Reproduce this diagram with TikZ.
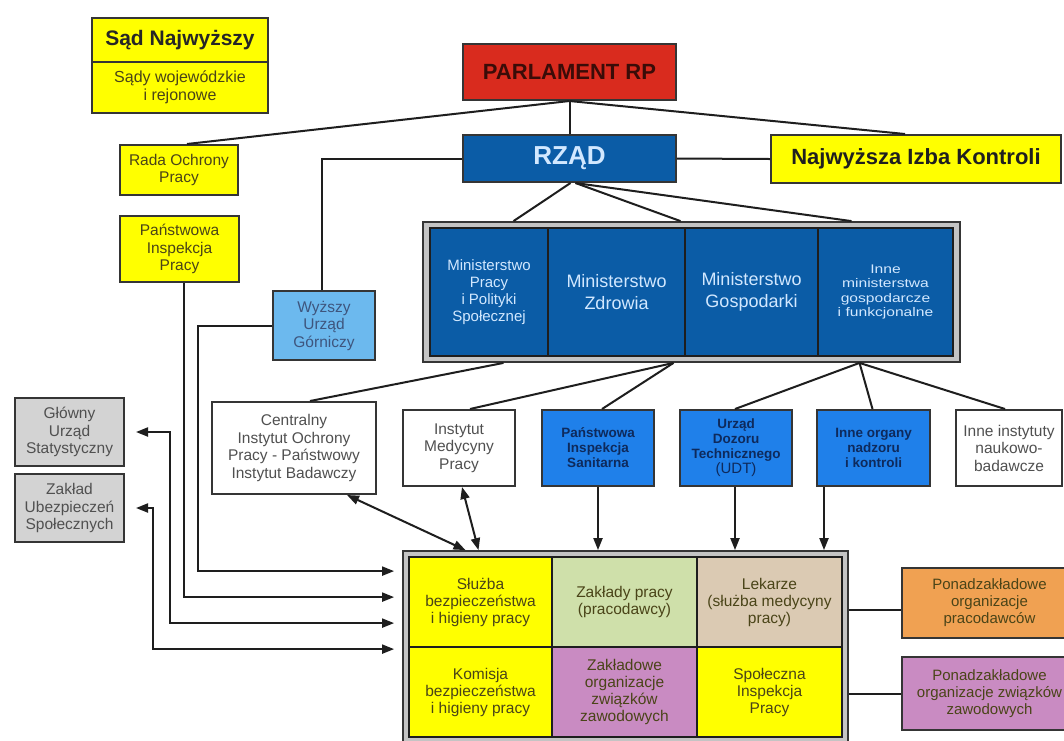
\documentclass[tikz,border=0pt]{standalone}
\usepackage{fontspec}
\setmainfont{Liberation Sans}
\newfontfamily\widesans[FakeStretch=1.25]{Liberation Sans}
\usetikzlibrary{arrows.meta,calc}
\definecolor{cyel}{HTML}{FFFF00}
\definecolor{cred}{HTML}{D92B1E}
\definecolor{cdblue}{HTML}{0B5CA6}
\definecolor{cmblue}{HTML}{1F80EA}
\definecolor{clblue}{HTML}{6CB9EE}
\definecolor{cgrey}{HTML}{D3D3D3}
\definecolor{cgreen}{HTML}{CFE0AA}
\definecolor{cbeige}{HTML}{DBCAB3}
\definecolor{cpurple}{HTML}{C98BC2}
\definecolor{corange}{HTML}{F0A152}
\definecolor{cframe}{HTML}{C4C4C4}
\definecolor{cline}{HTML}{1E1E1E}
\definecolor{ctxtY}{HTML}{4A4418}
\definecolor{ctxtG}{HTML}{505050}
\definecolor{ctxtM}{HTML}{D2E8FF}
\definecolor{ctxtN}{HTML}{0E2A5C}
\definecolor{ctxtP}{HTML}{3A0C08}
\begin{document}
\begin{tikzpicture}[x=1pt,y=-1pt,
  wh/.style 2 args={minimum width=#1pt,minimum height=#2pt},
  box/.style={draw=cline!90, line width=2pt, inner sep=1pt, align=center, text=ctxtY,
    font=\fontsize{15.5}{17.5}\selectfont},
  cell/.style={draw=cline, line width=1.3pt, inner sep=1pt, align=center, text=ctxtY,
    font=\fontsize{15.5}{17}\selectfont},
  frame/.style={draw=cline!90, line width=1.8pt, fill=cframe},
  conn/.style={draw=cline, line width=2pt},
  arr/.style={conn, -{Triangle[length=12pt,width=9pt]}},
  darr/.style={conn, {Triangle[length=12pt,width=9pt]}-{Triangle[length=12pt,width=9pt]}}
]
\useasboundingbox (0,0) rectangle (1064,740);
\clip (0,0) rectangle (1064,740);
\fill[white] (0,0) rectangle (1064,740);

% top left
\node[box, fill=cyel, wh={176}{44}, text=black!85, font=\bfseries\fontsize{21}{24}\selectfont] (sadA) at (180,40) {Sąd Najwyższy};
\node[box, fill=cyel, wh={176}{51}, font=\fontsize{16}{18}\selectfont] (sadB) at (180,87.5) {Sądy wojewódzkie\\i rejonowe};
\node[box, fill=cyel, wh={118}{50}] (rada) at (179,170) {Rada Ochrony\\Pracy};
\node[box, fill=cyel, wh={119}{66}] (pip) at (179.5,249) {Państwowa\\Inspekcja\\Pracy};

% top centre
\node[box, fill=cred, wh={213}{56}, text=ctxtP, font=\bfseries\fontsize{22}{24}\selectfont] (parl) at (569.5,72) {PARLAMENT RP};
\node[box, fill=cdblue, wh={213}{47}, text=ctxtM, font=\bfseries\fontsize{26}{28}\selectfont] (rzad) at (569.5,158.5) {RZĄD};
\node[box, fill=cyel, wh={290}{48}, text=black!88, font=\bfseries\fontsize{22}{24}\selectfont] (nik) at (916,159) {Najwyższa Izba Kontroli};
\node[box, fill=clblue, wh={102}{69}, text=ctxtN!80] (wug) at (324,325.5) {Wyższy\\Urząd\\Górniczy};

% ministries
\node[frame, wh={537}{140}] (min) at (691.5,292) {};
\node[cell, fill=cdblue, wh={118}{128}, text=ctxtM, font=\fontsize{15}{16.8}\selectfont] (m1) at (489,292) {Ministerstwo\\Pracy\\i Polityki\\Społecznej};
\node[cell, fill=cdblue, wh={137}{128}, text=ctxtM, font=\fontsize{18}{21.5}\selectfont] (m2) at (616.5,292) {Ministerstwo\\Zdrowia};
\node[cell, fill=cdblue, wh={133}{128}, text=ctxtM, font=\fontsize{18}{21.5}\selectfont] (m3) at (751.5,292) {Ministerstwo\\Gospodarki};
\node[cell, fill=cdblue, wh={135}{128}, text=ctxtM, font=\widesans\fontsize{12.5}{14.5}\selectfont] (m4) at (885.5,292) {Inne\\ministerstwa\\gospodarcze\\i funkcjonalne};

% left grey boxes
\node[box, fill=cgrey, wh={109}{68}, text=ctxtG] (gus) at (69.5,432) {Główny\\Urząd\\Statystyczny};
\node[box, fill=cgrey, wh={109}{68}, text=ctxtG] (zus) at (69.5,508) {Zakład\\Ubezpieczeń\\Społecznych};

% institutes row
\node[box, fill=white, wh={164}{92}, text=ctxtG] (ciop) at (294,448) {Centralny\\Instytut Ochrony\\Pracy - Państwowy\\Instytut Badawczy};
\node[box, fill=white, wh={112}{76}, text=ctxtG] (imp) at (459,448) {Instytut\\Medycyny\\Pracy};
\node[box, fill=cmblue, wh={112}{76}, text=ctxtN, font=\bfseries\fontsize{13.5}{15}\selectfont] (pis) at (598,448) {Państwowa\\Inspekcja\\Sanitarna};
\node[box, fill=cmblue, wh={112}{76}, text=ctxtN, font=\bfseries\fontsize{13.5}{15}\selectfont] (udt) at (736,448) {Urząd\\Dozoru\\Technicznego\\{\mdseries\fontsize{15}{15}\selectfont (UDT)}};
\node[box, fill=cmblue, wh={113}{76}, text=ctxtN, font=\bfseries\fontsize{13.5}{15}\selectfont] (ino) at (873.5,448) {Inne organy\\nadzoru\\i kontroli};
\node[box, fill=white, wh={106}{76}, text=ctxtG] (iin) at (1009,448) {Inne instytuty\\naukowo-\\badawcze};

% bottom frame
\node[frame, wh={445}{192}] (bot) at (625.5,647) {};
\node[cell, fill=cyel, wh={143}{90}] (c11) at (480.5,602) {Służba\\bezpieczeństwa\\i higieny pracy};
\node[cell, fill=cgreen, wh={145}{90}] (c12) at (624.5,602) {Zakłady pracy\\(pracodawcy)};
\node[cell, fill=cbeige, wh={145}{90}] (c13) at (769.5,602) {Lekarze\\(służba medycyny\\pracy)};
\node[cell, fill=cyel, wh={143}{90}] (c21) at (480.5,692) {Komisja\\bezpieczeństwa\\i higieny pracy};
\node[cell, fill=cpurple, wh={145}{90}] (c22) at (624.5,692) {Zakładowe\\organizacje\\związków\\zawodowych};
\node[cell, fill=cyel, wh={145}{90}] (c23) at (769.5,692) {Społeczna\\Inspekcja\\Pracy};

% right boxes
\node[box, fill=corange, wh={175}{70}, font=\fontsize{15}{17}\selectfont] (ora) at (989.5,603) {Ponadzakładowe\\organizacje\\pracodawców};
\node[box, fill=cpurple, wh={175}{73}, font=\fontsize{15}{17}\selectfont] (pur) at (989.5,693.5) {Ponadzakładowe\\organizacje związków\\zawodowych};

% connectors: top
\draw[conn] (parl.south) -- ([xshift=8pt]rada.north);
\draw[conn] (parl.south) -- (rzad.north);
\draw[conn] (parl.south) -- ([xshift=-11pt]nik.north);
\draw[conn] (rzad.east) -- (nik.west);
\draw[conn] (rzad.west) -| ([xshift=-2pt]wug.north);
\draw[conn] ([xshift=1pt]rzad.south) -- ([xshift=-178pt]min.north);
\draw[conn] ([xshift=6pt]rzad.south) -- ([xshift=-11pt]min.north);
\draw[conn] ([xshift=6pt]rzad.south) -- ([xshift=160pt]min.north);

% ministries to institutes
\coordinate (mA) at ([xshift=-188pt]min.south);
\coordinate (mB) at ([xshift=-18pt]min.south);
\coordinate (mC) at ([xshift=168pt]min.south);
\draw[conn] (mA) -- ([xshift=16pt]ciop.north);
\draw[conn] (mB) -- ([xshift=11pt]imp.north);
\draw[conn] (mB) -- ([xshift=4pt]pis.north);
\draw[conn] (mC) -- ([xshift=-1pt]udt.north);
\draw[conn] (mC) -- ([xshift=-1pt]ino.north);
\draw[conn] (mC) -- ([xshift=-4pt]iin.north);

% institutes to bottom frame
\draw[darr] ([xshift=53pt]ciop.south) -- ([xshift=-160pt]bot.north);
\draw[darr] ([xshift=3pt]imp.south) -- ([xshift=-147pt]bot.north);
\draw[arr] (pis.south) -- (pis.south |- bot.north);
\coordinate (udtA) at ([xshift=-1pt]udt.south);
\draw[arr] (udtA) -- (udtA |- bot.north);
\coordinate (inoA) at ([xshift=8pt]ino.south west);
\draw[arr] (inoA) -- (inoA |- bot.north);

% left side connectors
\draw[arr] (wug.west) -- ++(-74,0) |- ([xshift=-8pt,yshift=-21pt]bot.north west);
\draw[arr] ([xshift=4.5pt]pip.south) |- ([xshift=-8pt,yshift=-47pt]bot.north west);
\draw[darr] ([xshift=11pt]gus.east) -- ++(34,0) |- ([xshift=-8pt,yshift=-73pt]bot.north west);
\draw[darr] ([xshift=11pt]zus.east) -- ++(17,0) |- ([xshift=-8pt,yshift=-99pt]bot.north west);

% right side
\coordinate (oraA) at ([yshift=-7pt]ora.west);
\draw[conn] (oraA -| bot.east) -- (oraA);
\draw[conn] (pur.west -| bot.east) -- (pur.west);
\end{tikzpicture}
\end{document}
